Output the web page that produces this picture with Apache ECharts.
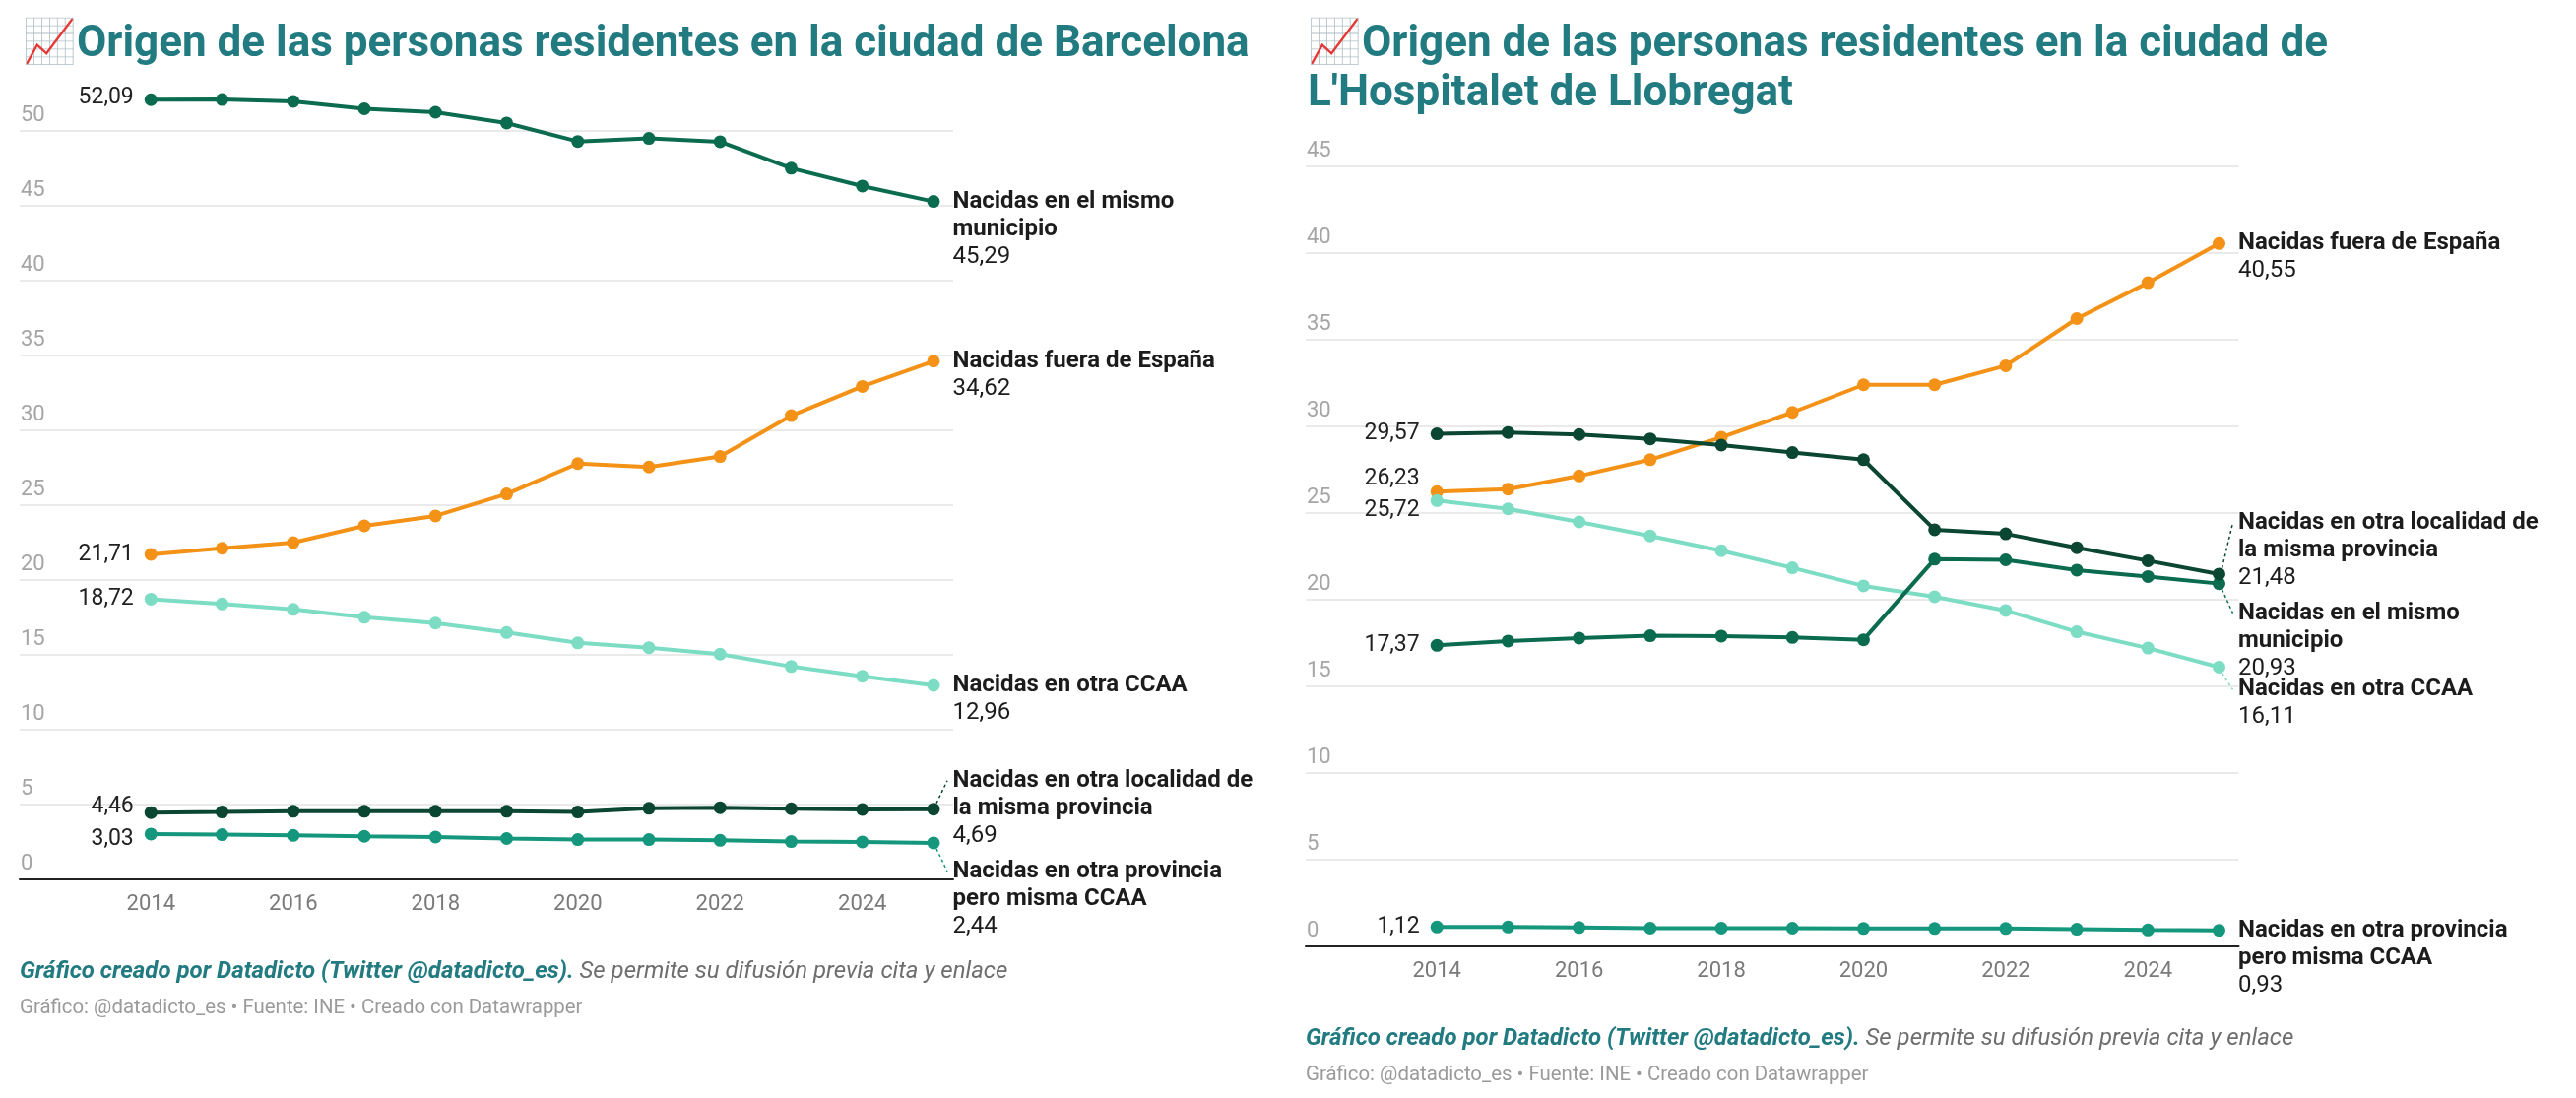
<!DOCTYPE html>
<html><head><meta charset="utf-8">
<script src="https://cdn.jsdelivr.net/npm/echarts@6/dist/echarts.min.js"></script>
<style>html,body{margin:0;padding:0;background:#fff}#c{width:2616px;height:1115px}</style>
</head><body><div id="c"></div>
<script>
// ---------- DATA ----------
const years = [2014, 2015, 2016, 2017, 2018, 2019, 2020, 2021, 2022, 2023, 2024, 2025];
const xTickLabels = [2014, 2016, 2018, 2020, 2022, 2024];

// Barcelona
const bcnMunicipio      = [52.09, 52.10, 51.98, 51.48, 51.25, 50.53, 49.30, 49.50, 49.28, 47.51, 46.32, 45.29];
const bcnFuera          = [21.71, 22.12, 22.50, 23.62, 24.28, 25.75, 27.78, 27.55, 28.25, 30.98, 32.93, 34.62];
const bcnOtraCCAA       = [18.72, 18.40, 18.04, 17.51, 17.12, 16.49, 15.80, 15.48, 15.05, 14.22, 13.57, 12.96];
const bcnOtraLocalidad  = [4.46, 4.50, 4.55, 4.55, 4.55, 4.55, 4.50, 4.75, 4.79, 4.72, 4.67, 4.69];
const bcnOtraProvincia  = [3.03, 2.99, 2.94, 2.88, 2.83, 2.73, 2.66, 2.66, 2.61, 2.53, 2.50, 2.44];

// L'Hospitalet de Llobregat
const lhFuera           = [26.23, 26.38, 27.14, 28.08, 29.37, 30.81, 32.40, 32.40, 33.50, 36.22, 38.29, 40.55];
const lhOtraLocalidad   = [29.57, 29.65, 29.53, 29.28, 28.92, 28.49, 28.08, 24.04, 23.80, 23.00, 22.25, 21.48];
const lhMunicipio       = [17.37, 17.62, 17.79, 17.92, 17.90, 17.82, 17.69, 22.34, 22.30, 21.71, 21.34, 20.93];
const lhOtraCCAA        = [25.72, 25.24, 24.49, 23.68, 22.83, 21.84, 20.80, 20.17, 19.38, 18.15, 17.21, 16.11];
const lhOtraProvincia   = [1.12, 1.12, 1.09, 1.05, 1.05, 1.05, 1.03, 1.03, 1.03, 0.99, 0.95, 0.93];

// Series names / end-label texts
const nameMunicipio     = 'Nacidas en el mismo\nmunicipio';
const nameFuera         = 'Nacidas fuera de España';
const nameOtraCCAA      = 'Nacidas en otra CCAA';
const nameOtraLocalidad = 'Nacidas en otra localidad de\nla misma provincia';
const nameOtraProvincia = 'Nacidas en otra provincia\npero misma CCAA';

const titleBcn = '📈Origen de las personas residentes en la ciudad de Barcelona';
const titleLh  = "📈Origen de las personas residentes en la ciudad de\nL'Hospitalet de Llobregat";
const footerA  = 'Gráfico creado por Datadicto (Twitter @datadicto_es).';
const footerB  = ' Se permite su difusión previa cita y enlace';
const footerC  = 'Gráfico: @datadicto_es • Fuente: INE • Creado con Datawrapper';

// ---------- STYLE ----------
const C = {
  municipio: '#0b6b4f',
  fuera: '#f39217',
  otraCCAA: '#7cdcc4',
  otraLocalidad: '#0a4632',
  otraProvincia: '#14977c'
};
const FONT = 'Roboto';
const fmt = v => v.toFixed(2).replace('.', ',');
const LH = 28;

const seriesList = [];
const leaders = [[], []];

function addSeries(g, label, values, color, startDy, endDy) {
  const nLines = label.split('\n').length + 1;
  const data = values.map((v, i) => {
    const item = { value: [years[i], v] };
    if (i === 0) {
      item.label = {
        show: true, position: 'left', distance: 11, offset: [0, startDy],
        formatter: () => fmt(v), fontSize: 23, color: '#222', fontFamily: FONT
      };
    } else if (i === values.length - 1) {
      item.label = {
        show: true, position: 'right', distance: 13, offset: [0, (nLines - 1) * LH / 2 + endDy],
        formatter: () => '{nm|' + label + '}\n{val|' + fmt(v) + '}',
        rich: {
          nm: { fontWeight: 'bold', fontSize: 24, lineHeight: LH, color: '#1c1c1c', fontFamily: FONT },
          val: { fontSize: 24, lineHeight: LH, color: '#1c1c1c', fontFamily: FONT }
        }
      };
    }
    return item;
  });
  seriesList.push({
    type: 'line', xAxisIndex: g, yAxisIndex: g, data, clip: false,
    symbol: 'circle', symbolSize: 13, showSymbol: true,
    lineStyle: { width: 4, color }, itemStyle: { color },
    label: { show: false }, emphasis: { disabled: true }, silent: true, z: 3
  });
  if (Math.abs(endDy) > 12) {
    leaders[g].push({ value: [years[years.length - 1], values[values.length - 1]], dy: endDy, color });
  }
}

// Barcelona
addSeries(0, nameMunicipio, bcnMunicipio, C.municipio, -2, 0);
addSeries(0, nameFuera, bcnFuera, C.fuera, 0, 0);
addSeries(0, nameOtraCCAA, bcnOtraCCAA, C.otraCCAA, 0, 0);
addSeries(0, nameOtraLocalidad, bcnOtraLocalidad, C.otraLocalidad, -6, -29);
addSeries(0, nameOtraProvincia, bcnOtraProvincia, C.otraProvincia, 5, 29);
// L'Hospitalet
addSeries(1, nameFuera, lhFuera, C.fuera, -13, 0);
addSeries(1, nameOtraCCAA, lhOtraCCAA, C.otraCCAA, 10, 23);
addSeries(1, nameMunicipio, lhMunicipio, C.municipio, 0, 30);
addSeries(1, nameOtraLocalidad, lhOtraLocalidad, C.otraLocalidad, 0, -52);
addSeries(1, nameOtraProvincia, lhOtraProvincia, C.otraProvincia, 0, 0);

[0, 1].forEach(g => {
  const list = leaders[g];
  seriesList.push({
    type: 'custom', xAxisIndex: g, yAxisIndex: g, clip: false, silent: true, z: 2,
    data: list.map(l => l.value),
    renderItem: (params, api) => {
      const l = list[params.dataIndex];
      const p = api.coord([api.value(0), api.value(1)]);
      const s = Math.sign(l.dy);
      return {
        type: 'line',
        shape: { x1: p[0] + 3, y1: p[1] + s * 6, x2: p[0] + 14, y2: p[1] + l.dy },
        style: { stroke: l.color, lineWidth: 1.5, lineDash: [3, 3] }
      };
    }
  });
});

function xAxisCfg(g) {
  return {
    type: 'value', gridIndex: g, min: 2012.155, max: 2025.277,
    splitLine: { show: false }, axisTick: { show: false },
    axisLine: { show: true, onZero: false, lineStyle: { color: '#222', width: 2 } },
    axisLabel: {
      customValues: xTickLabels, margin: 14, fontSize: 22, color: '#7a7a7a', fontFamily: FONT,
      formatter: v => String(v)
    }
  };
}
function yAxisCfg(g, max) {
  return {
    type: 'value', gridIndex: g, min: 0, max, interval: 5,
    axisLine: { show: false }, axisTick: { show: false },
    splitLine: { show: true, lineStyle: { color: '#e3e3e3', width: 1.5 } },
    axisLabel: {
      inside: true, margin: 1, verticalAlign: 'bottom', padding: [0, 0, 5, 0],
      fontSize: 22, color: '#a5a5a5', fontFamily: FONT
    }
  };
}

const titleStyle = { fontFamily: FONT, fontWeight: 'bold', fontSize: 44, color: '#227b80', lineHeight: 50 };
function footer(left, top) {
  return {
    left, top, padding: 0,
    text: '{a|' + footerA + '}{b|' + footerB + '}\n{c|' + footerC + '}',
    textStyle: {
      fontWeight: 'normal',
      rich: {
        a: { fontFamily: FONT, fontWeight: 'bold', fontStyle: 'italic', fontSize: 24, color: '#227b80', lineHeight: 37 },
        b: { fontFamily: FONT, fontWeight: 'normal', fontStyle: 'italic', fontSize: 24, color: '#6e6e6e', lineHeight: 37 },
        c: { fontFamily: FONT, fontWeight: 'normal', fontSize: 20.4, color: '#9a9a9a', lineHeight: 37 }
      }
    }
  };
}

const chart = echarts.init(document.getElementById('c'), null, { renderer: 'canvas' });
chart.setOption({
  animation: false,
  backgroundColor: '#ffffff',
  title: [
    { left: 23, top: 21, padding: 0, text: titleBcn, textStyle: titleStyle },
    { left: 1328, top: 21, padding: 0, text: titleLh, textStyle: titleStyle },
    footer(20, 968),
    footer(1326, 1036)
  ],
  grid: [
    { left: 20, right: 1648, top: 133, bottom: 222 },
    { left: 1326, right: 342.5, top: 169, bottom: 154 }
  ],
  xAxis: [xAxisCfg(0), xAxisCfg(1)],
  yAxis: [yAxisCfg(0, 50), yAxisCfg(1, 45)],
  tooltip: { show: false },
  series: seriesList
});
</script></body></html>
